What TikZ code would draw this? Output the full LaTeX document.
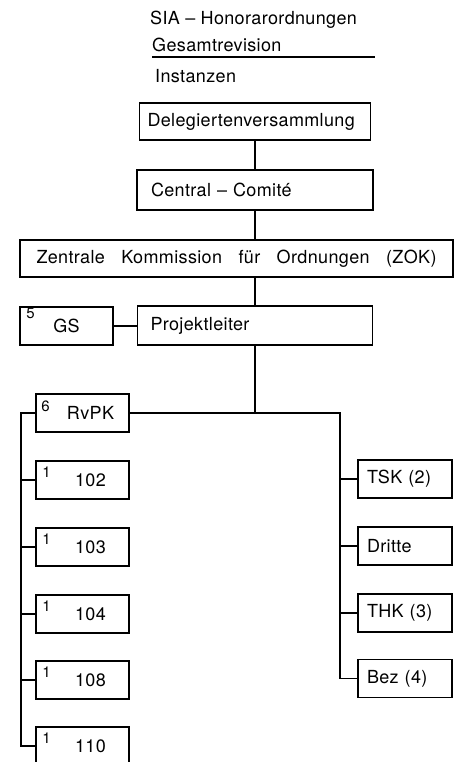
\documentclass[tikz,border=0pt]{standalone}
\usepackage{fontspec}
\setmainfont{TeX Gyre Heros}[LetterSpace=2]
\tikzset{
  box/.style={rectangle, draw, line width=1.7pt, minimum height=38pt, inner sep=0pt, font=\fontsize{18}{21}\selectfont},
  wide/.style={box, align=left, inner xsep=#1},
  colbox/.style={box, minimum width=93pt, execute at begin node={\hspace*{16pt}}},
  rbox/.style={box, text width=76pt, inner xsep=9pt, align=left},
  num/.style={inner sep=0pt, anchor=north west, font=\fontsize{15}{17}\selectfont},
  head/.style={inner sep=0pt, anchor=west, font=\fontsize{18}{21}\selectfont},
  link/.style={line width=1.7pt}
}
\begin{document}
\begin{tikzpicture}[x=1pt, y=-1pt]
  \useasboundingbox (0,0) rectangle (462,762);
  % title
  \node[head] (title) at (150,20) {SIA -- Honorarordnungen};
  \node[head] (subtitle) at (152,45) {Gesamtrevision};
  \coordinate (ruleL) at (152,57);
  \coordinate (ruleR) at (375,57);
  \draw[line width=1.4pt] (ruleL) -- (ruleR);
  \node[head] (instanzen) at (155,76) {Instanzen};

  % main chain
  \node[wide=8pt, text width=215pt, minimum height=37pt] (dv) at (255,121.5) {Delegiertenversammlung};
  \node[wide=14pt, text width=208pt, minimum height=40pt] (cc) at (255,190) {Central -- Comit\'e};
  \node[box, minimum width=433pt, minimum height=37pt] (zok) at (236.5,258.5) {\makebox[400pt][s]{Zentrale Kommission f\"ur Ordnungen (ZOK)}};
  \node[wide=13pt, text width=209pt, minimum height=39pt] (pl) at (255,325.5) {Projektleiter};
  \node[box, minimum width=93pt] (gs) at (66.5,326) {GS};
  \node[num] (n5) at ([shift={(7pt,-2pt)}]gs.north west) {5};

  \draw[link] (dv.south) -- (cc.north);
  \draw[link] (cc.south) -- (cc.south |- zok.north);
  \draw[link] (zok.south -| pl.north) -- (pl.north);
  \draw[link] (gs.east) -- (gs.east -| pl.west);

  % left column
  \node[colbox] (rvpk) at (82.5,413) {RvPK};
  \node[colbox] (b102) at (82.5,480) {102};
  \node[colbox] (b103) at (82.5,547) {103};
  \node[colbox] (b104) at (82.5,614) {104};
  \node[colbox] (b108) at (82.5,680) {108};
  \node[colbox] (b110) at (82.5,746) {110};
  \node[num] (n6) at ([shift={(6pt,-8pt)}]rvpk.north west) {6};
  \node[num] (n102) at ([shift={(7pt,-7pt)}]b102.north west) {1};
  \node[num] (n103) at ([shift={(7pt,-7pt)}]b103.north west) {1};
  \node[num] (n104) at ([shift={(7pt,-7pt)}]b104.north west) {1};
  \node[num] (n108) at ([shift={(7pt,-7pt)}]b108.north west) {1};
  \node[num] (n110) at ([shift={(7pt,-7pt)}]b110.north west) {1};

  % right column
  \node[rbox] (tsk) at (405,479) {\mbox{TSK (2)}};
  \node[rbox] (dritte) at (405,546) {Dritte};
  \node[rbox] (thk) at (405,613) {\mbox{THK (3)}};
  \node[rbox] (bez) at (405,678.5) {\mbox{Bez (4)}};

  % connectors below Projektleiter
  \coordinate (ljoin) at (21,413);
  \coordinate (rjoin) at (340,413);
  \draw[link] (pl.south) -- (pl.south |- rvpk.east);
  \draw[link] (rvpk.east) -- (rjoin) |- (bez.west);
  \draw[link] (rjoin |- tsk.west) -- (tsk.west);
  \draw[link] (rjoin |- dritte.west) -- (dritte.west);
  \draw[link] (rjoin |- thk.west) -- (thk.west);
  \draw[link] (rvpk.west) -- (ljoin) |- (b110.west);
  \draw[link] (ljoin |- b102.west) -- (b102.west);
  \draw[link] (ljoin |- b103.west) -- (b103.west);
  \draw[link] (ljoin |- b104.west) -- (b104.west);
  \draw[link] (ljoin |- b108.west) -- (b108.west);
\end{tikzpicture}
\end{document}
